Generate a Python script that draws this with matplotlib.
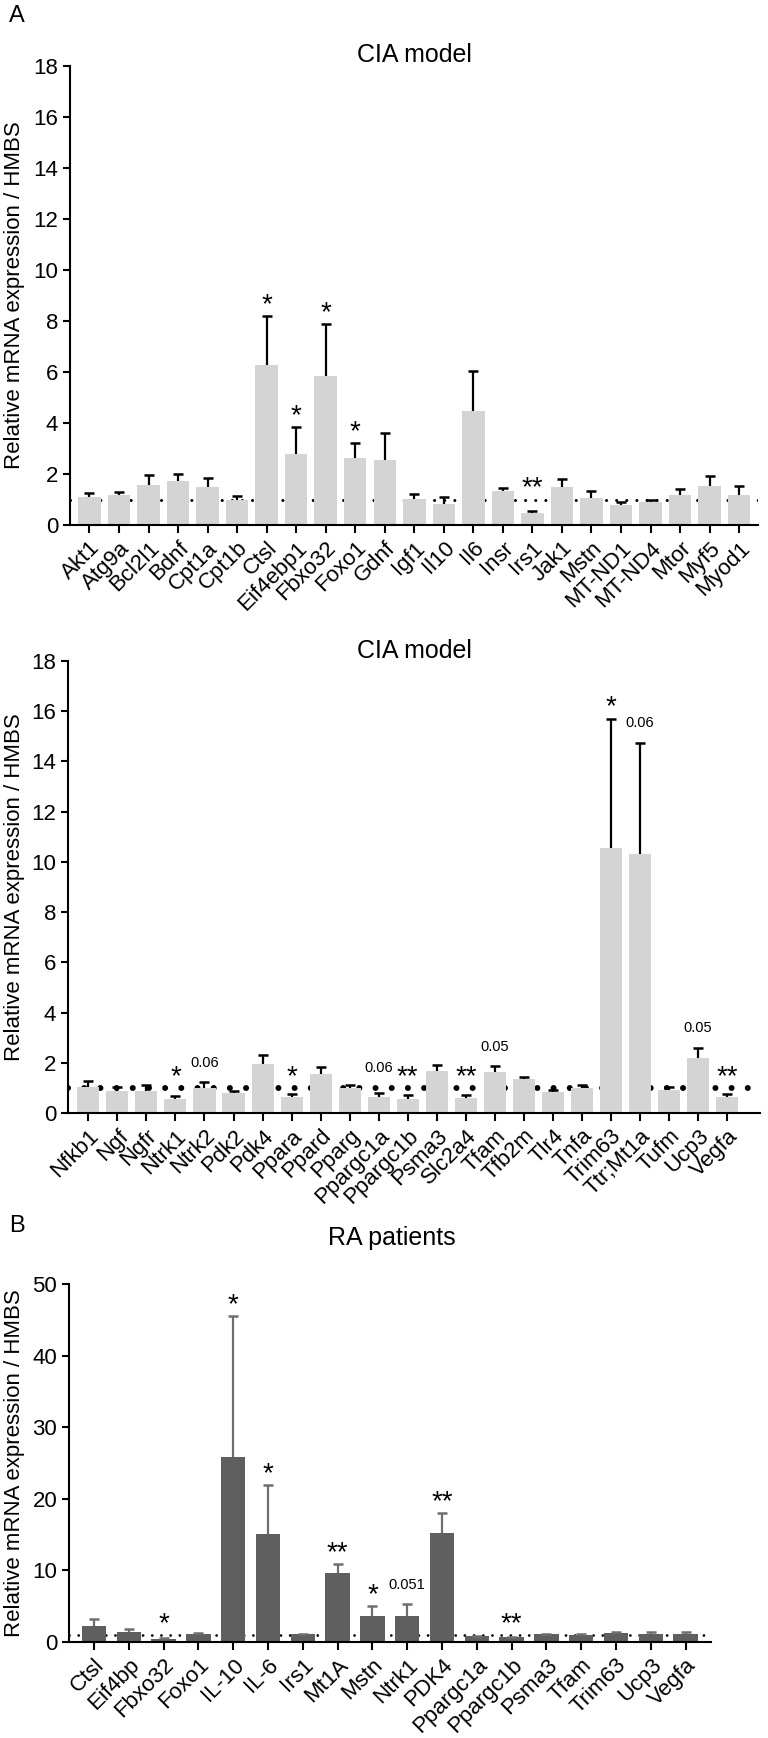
import numpy as np
import matplotlib
matplotlib.use("Agg")
import matplotlib.pyplot as plt

plt.rcParams['font.family'] = ['Liberation Sans', 'DejaVu Sans']

# ---- CIA model, part 1 ----
genes_a1 = ['Akt1', 'Atg9a', 'Bcl2l1', 'Bdnf', 'Cpt1a', 'Cpt1b', 'Ctsl', 'Eif4ebp1',
            'Fbxo32', 'Foxo1', 'Gdnf', 'Igf1', 'Il10', 'Il6', 'Insr', 'Irs1', 'Jak1',
            'Mstn', 'MT-ND1', 'MT-ND4', 'Mtor', 'Myf5', 'Myod1']
mean_a1 = [1.08, 1.19, 1.58, 1.72, 1.50, 0.98, 6.26, 2.77, 5.84, 2.63, 2.56, 1.02,
           0.84, 4.48, 1.33, 0.48, 1.50, 1.05, 0.80, 0.91, 1.19, 1.54, 1.19]
err_a1 = [0.18, 0.10, 0.38, 0.27, 0.36, 0.14, 1.93, 1.08, 2.04, 0.59, 1.04, 0.21,
          0.24, 1.54, 0.14, 0.08, 0.29, 0.28, 0.11, 0.07, 0.21, 0.38, 0.32]
sig_a1 = ['', '', '', '', '', '', '*', '*', '*', '*', '', '', '', '', '', '**', '',
          '', '', '', '', '', '']

# ---- CIA model, part 2 ----
genes_a2 = ['Nfkb1', 'Ngf', 'Ngfr', 'Ntrk1', 'Ntrk2', 'Pdk2', 'Pdk4', 'Ppara', 'Ppard',
            'Pparg', 'Ppargc1a', 'Ppargc1b', 'Psma3', 'Slc2a4', 'Tfam', 'Tfb2m', 'Tlr4',
            'Tnfa', 'Trim63', 'Ttr;Mt1a', 'Tufm', 'Ucp3', 'Vegfa']
mean_a2 = [1.02, 0.89, 0.89, 0.57, 0.99, 0.78, 1.95, 0.64, 1.56, 0.99, 0.64, 0.57,
           1.66, 0.59, 1.63, 1.34, 0.85, 0.99, 10.54, 10.30, 0.92, 2.19, 0.64]
err_a2 = [0.25, 0.14, 0.24, 0.10, 0.24, 0.11, 0.34, 0.11, 0.28, 0.11, 0.14, 0.14,
          0.25, 0.12, 0.24, 0.10, 0.07, 0.14, 5.17, 4.44, 0.11, 0.40, 0.10]
sig_a2 = ['', '', '', '*', '0.06', '', '', '*', '', '', '0.06', '**', '', '**', '0.05',
          '', '', '', '*', '0.06', '', '0.05', '**']

# ---- RA patients ----
genes_b = ['Ctsl', 'Eif4bp', 'Fbxo32', 'Foxo1', 'IL-10', 'IL-6', 'Irs1', 'Mt1A', 'Mstn',
           'Ntrk1', 'PDK4', 'Ppargc1a', 'Ppargc1b', 'Psma3', 'Tfam', 'Trim63', 'Ucp3', 'Vegfa']
mean_b = [2.22, 1.44, 0.44, 1.11, 25.86, 15.15, 1.11, 9.60, 3.61, 3.61, 15.26, 0.83,
          0.67, 1.11, 1.00, 1.28, 1.17, 1.11]
err_b = [1.00, 0.39, 0.11, 0.17, 19.70, 6.83, 0.06, 1.28, 1.44, 1.66, 2.78, 0.06,
         0.05, 0.06, 0.11, 0.16, 0.16, 0.28]
sig_b = ['', '', '*', '', '*', '*', '', '**', '*', '0.051', '**', '', '**', '', '', '', '', '']

W, H = 768, 1738
fig = plt.figure(figsize=(W / 100, H / 100), dpi=100)


def px_axes(left, top, right, bottom):
    return fig.add_axes([left / W, 1 - bottom / H, (right - left) / W, (bottom - top) / H])


def draw_panel(ax, genes, mean, err, sig, ymax, ystep, bar_color, err_color, width,
               xlim, dot_lw, dot_gap):
    x = np.arange(len(genes))
    ax.axhline(1.0, color='black', lw=dot_lw, linestyle=(0, (0.01, dot_gap)),
               dash_capstyle='round', zorder=1)
    ax.bar(x, mean, width=width, color=bar_color, zorder=2)
    eb = ax.errorbar(x, mean, yerr=[np.zeros(len(err)), err], fmt='none', ecolor=err_color,
                     elinewidth=1.6, capsize=3.4, capthick=1.8, zorder=3)
    # only the upper cap, as in the original
    eb[1][0].set_visible(False)
    for xi, m, e, s in zip(x, mean, err, sig):
        if not s:
            continue
        base = max(m + e, 1.0)
        if s.startswith('*'):
            ax.annotate(s, (xi, base), xytext=(0, -1.5), textcoords='offset points',
                        ha='center', va='bottom', fontsize=20)
        else:
            ax.annotate(s, (xi, base), xytext=(0, 9), textcoords='offset points',
                        ha='center', va='bottom', fontsize=10.5)
    ax.set_xlim(*xlim)
    ax.set_ylim(0, ymax)
    ax.set_yticks(np.arange(0, ymax + 0.1, ystep))
    ax.set_xticks(x)
    ax.set_xticklabels(genes, rotation=45, ha='right', rotation_mode='anchor', fontsize=16)
    ax.tick_params(axis='y', labelsize=16, width=1.5, length=5)
    ax.tick_params(axis='x', width=1.5, length=6, pad=3)
    for sp in ['top', 'right']:
        ax.spines[sp].set_visible(False)
    for sp in ['left', 'bottom']:
        ax.spines[sp].set_linewidth(1.5)


ax1 = px_axes(70, 66, 758, 525)
draw_panel(ax1, genes_a1, mean_a1, err_a1, sig_a1, 18, 2, '#d4d4d4', 'black', 0.76,
           (-0.66, 22.64), 2.2, 3.3)
ax2 = px_axes(68, 661, 760, 1113)
draw_panel(ax2, genes_a2, mean_a2, err_a2, sig_a2, 18, 2, '#d4d4d4', 'black', 0.76,
           (-0.70, 23.13), 4.3, 2.7)
ax3 = px_axes(69, 1284, 711, 1642)
draw_panel(ax3, genes_b, mean_b, err_b, sig_b, 50, 10, '#5f5f5f', '#6e6e6e', 0.7,
           (-0.72, 17.73), 2.0, 3.3)

# titles, panel letters and y labels
fig.text(414 / W, 1 - 55 / H, 'CIA model', ha='center', va='center', fontsize=18)
fig.text(414 / W, 1 - 651 / H, 'CIA model', ha='center', va='center', fontsize=18)
fig.text(392 / W, 1 - 1238 / H, 'RA patients', ha='center', va='center', fontsize=18)
fig.text(17 / W, 1 - 16 / H, 'A', ha='center', va='center', fontsize=17)
fig.text(17 / W, 1 - 1226 / H, 'B', ha='center', va='center', fontsize=17)
for yc in [295, 887, 1463]:
    fig.text(15 / W, 1 - yc / H, 'Relative mRNA expression / HMBS', rotation=90,
             ha='center', va='center', fontsize=16)

fig.savefig('out.png', dpi=100)
